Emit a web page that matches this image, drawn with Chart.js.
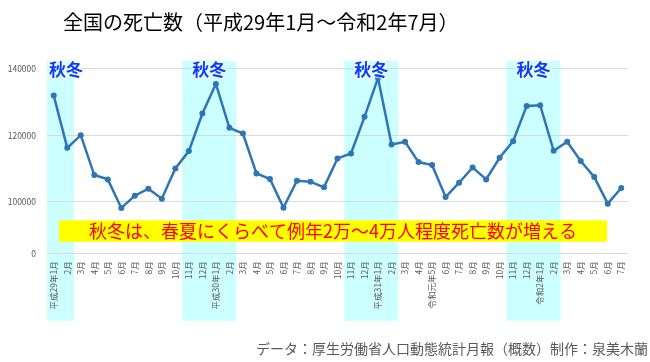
<!DOCTYPE html>
<html><head><meta charset="utf-8">
<script src="https://cdn.jsdelivr.net/npm/chart.js@4"></script>
<style>html,body{margin:0;padding:0;background:#fff;}#wrap{width:650px;height:362px;}</style>
</head><body><div id="wrap"><canvas id="c" width="650" height="362"></canvas></div>
<script>
const categories = ['平成29年1月','2月','3月','4月','5月','6月','7月','8月','9月','10月','11月','12月',
  '平成30年1月','2月','3月','4月','5月','6月','7月','8月','9月','10月','11月','12月',
  '平成31年1月','2月','3月','4月','令和元年5月','6月','7月','8月','9月','10月','11月','12月',
  '令和2年1月','2月','3月','4月','5月','6月','7月'];
const deaths = [132000,116300,120100,108100,106800,98200,101900,104000,101000,110100,115300,126600,
  135500,122300,120600,108600,106900,98300,106400,106100,104400,113100,114600,125600,
  137300,117300,118100,112000,111100,101500,105800,110400,106800,113300,118300,128900,
  129100,115400,118100,112300,107500,99500,104200];
// broken y axis: the bottom gridline is labelled 0
const yTickValues = [84570,100000,120000,140000];
const yTickLabels = ['0','100000','120000','140000'];
const seasonBands = [[0,1],[10,13],[22,25],[34,37]];
const seasonLabel = '秋冬';
const titleText = '全国の死亡数（平成29年1月～令和2年7月）';
const noteText = '秋冬は、春夏にくらべて例年2万～4万人程度死亡数が増える';
const sourceText = 'データ：厚生労働省人口動態統計月報（概数）制作：泉美木蘭';

const FONT = '"Noto Sans CJK JP", "Noto Sans", sans-serif';

const decor = {
  id: 'decor',
  beforeDraw(chart) {
    const ctx = chart.ctx, xs = chart.scales.x, ca = chart.chartArea;
    const step = xs.getPixelForValue(1) - xs.getPixelForValue(0);
    ctx.save();
    ctx.fillStyle = '#ccffff';
    seasonBands.forEach(([a,b]) => {
      const l = xs.getPixelForValue(a) - step/2, r = xs.getPixelForValue(b) + step/2;
      ctx.fillRect(l, ca.top, r - l, ca.bottom + 67.5 - ca.top);
    });
    ctx.fillStyle = '#000';
    ctx.font = '20px ' + FONT;
    ctx.textBaseline = 'middle';
    ctx.textAlign = 'left';
    ctx.fillText(titleText, 63, 22);
    ctx.fillStyle = '#595959';
    ctx.font = '14px ' + FONT;
    ctx.textAlign = 'right';
    ctx.fillText(sourceText, 648, 349);
    ctx.restore();
  },
  afterDatasetsDraw(chart) {
    const ctx = chart.ctx, xs = chart.scales.x, ca = chart.chartArea;
    const step = xs.getPixelForValue(1) - xs.getPixelForValue(0);
    ctx.save();
    ctx.font = 'bold 17px ' + FONT;
    ctx.textBaseline = 'middle';
    ctx.textAlign = 'center';
    const w = ctx.measureText(seasonLabel).width;
    seasonBands.forEach(([a,b]) => {
      const l = xs.getPixelForValue(a) - step/2, r = xs.getPixelForValue(b) + step/2;
      const cx = Math.max((l + r) / 2, l + 2 + w / 2);
      ctx.lineWidth = 3; ctx.strokeStyle = 'rgba(255,255,255,0.6)';
      ctx.strokeText(seasonLabel, cx, ca.top + 9);
      ctx.fillStyle = '#0a3cff';
      ctx.fillText(seasonLabel, cx, ca.top + 9);
    });
    // note box
    const bl = ca.left + 12, br = ca.right - 21, bt = ca.bottom - 33, bh = 21.5;
    ctx.fillStyle = '#ffff00';
    ctx.fillRect(bl, bt, br - bl, bh);
    ctx.fillStyle = '#ff0000';
    ctx.font = '18px ' + FONT;
    ctx.fillText(noteText, (bl + br) / 2, bt + bh / 2 + 0.5);
    ctx.restore();
  }
};

new Chart(document.getElementById('c'), {
  type: 'line',
  data: {
    labels: categories,
    datasets: [{
      data: deaths,
      borderColor: '#2e75b6',
      backgroundColor: '#2e75b6',
      borderWidth: 2.5,
      pointRadius: 3,
      pointBorderWidth: 0,
      tension: 0
    }]
  },
  options: {
    responsive: false,
    animation: false,
    layout: { padding: { top: 61, right: 22, left: 0, bottom: 0 } },
    plugins: { legend: { display: false }, tooltip: { enabled: false }, title: { display: false } },
    scales: {
      x: {
        offset: true,
        grid: { display: false, drawTicks: false },
        border: { display: false },
        afterFit(s) { s.height = 108.7; },
        ticks: {
          autoSkip: false, minRotation: 90, maxRotation: 90, padding: 8,
          color: '#595959', font: { family: FONT, size: 8.5 }
        }
      },
      y: {
        min: 84570, max: 142400,
        afterFit(s) { s.width = 47; },
        afterBuildTicks(s) { s.ticks = yTickValues.map(v => ({ value: v })); },
        grid: { color: '#d9d9d9', lineWidth: 1, drawTicks: false },
        border: { display: false },
        ticks: {
          padding: 11,
          color: '#595959', font: { family: FONT, size: 8.5 },
          callback: (v) => yTickLabels[yTickValues.indexOf(v)]
        }
      }
    }
  },
  plugins: [decor]
});
</script></body></html>
